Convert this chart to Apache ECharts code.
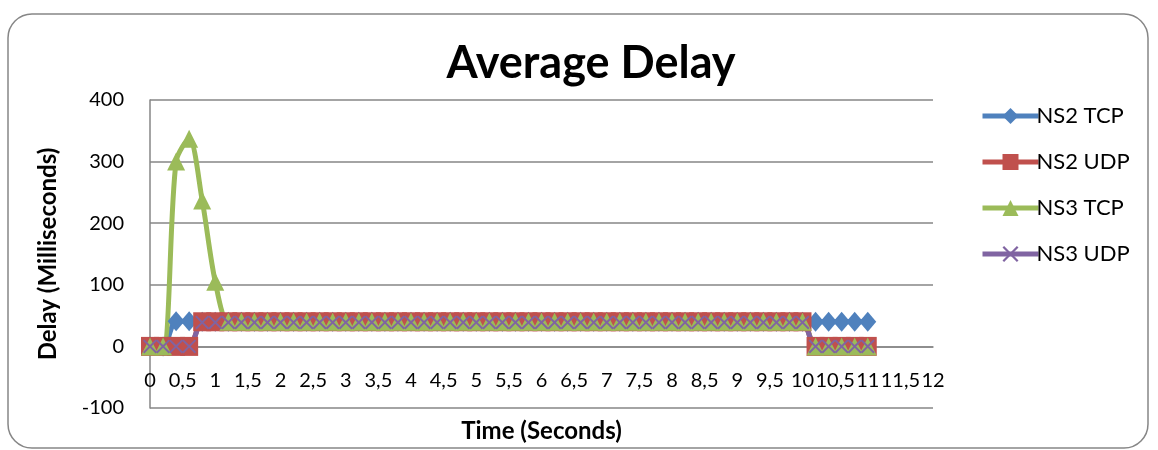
<!DOCTYPE html>
<html>
<head>
<meta charset="utf-8">
<script src="https://cdn.jsdelivr.net/npm/echarts@6/dist/echarts.min.js"></script>
<style>
  html, body { margin: 0; padding: 0; background: #fff; }
  #chart { width: 1158px; height: 450px; }
</style>
</head>
<body>
<div id="chart"></div>
<script>
// Sample times (seconds)
const times = [0,0.2,0.4,0.6,0.8,1,1.2,1.4,1.6,1.8,2,2.2,2.4,2.6,2.8,3,3.2,3.4,3.6,3.8,
  4,4.2,4.4,4.6,4.8,5,5.2,5.4,5.6,5.8,6,6.2,6.4,6.6,6.8,7,7.2,7.4,7.6,7.8,
  8,8.2,8.4,8.6,8.8,9,9.2,9.4,9.6,9.8,10,10.2,10.4,10.6,10.8,11];

// Average delay per sample (milliseconds)
const ns2Tcp = [0,0,41,41,40,40,40,40,40,40,40,40,40,40,40,40,40,40,40,40,
  40,40,40,40,40,40,40,40,40,40,40,40,40,40,40,40,40,40,40,40,
  40,40,40,40,40,40,40,40,40,40,40,40,40,40,40,40];
const ns2Udp = [0,0,0,0,40,40,40,40,40,40,40,40,40,40,40,40,40,40,40,40,
  40,40,40,40,40,40,40,40,40,40,40,40,40,40,40,40,40,40,40,40,
  40,40,40,40,40,40,40,40,40,40,40,0,0,0,0,0];
const ns3Tcp = [0,0,300,337,237,105,40,40,40,40,40,40,40,40,40,40,40,40,40,40,
  40,40,40,40,40,40,40,40,40,40,40,40,40,40,40,40,40,40,40,40,
  40,40,40,40,40,40,40,40,40,40,40,0,0,0,0,0];
const ns3Udp = [0,0,0,0,39,39,39,39,39,39,39,39,39,39,39,39,39,39,39,39,
  39,39,39,39,39,39,39,39,39,39,39,39,39,39,39,39,39,39,39,39,
  39,39,39,39,39,39,39,39,39,39,39,0,0,0,0,0];

const seriesNames = ['NS2 TCP', 'NS2 UDP', 'NS3 TCP', 'NS3 UDP'];
const yTicks = { min: -100, max: 400, step: 100 };
const xTicks = { min: 0, max: 12, step: 0.5 };

const FONT = 'Lato, "Open Sans", sans-serif';
const GRID_COLOR = '#868686';
const X_MARK = 'path://M0,1 L1,0 L5,4 L9,0 L10,1 L6,5 L10,9 L9,10 L5,6 L1,10 L0,9 L4,5 Z';

function pairs(values) {
  return times.map((t, i) => [t, values[i]]);
}

function lineSeries(name, values, color, symbol, size) {
  return {
    name: name,
    type: 'line',
    data: pairs(values),
    smooth: 0.3,
    symbol: symbol,
    symbolSize: size,
    lineStyle: { width: 5, color: color },
    itemStyle: { color: color, borderWidth: 0 },
    emphasis: { disabled: true }
  };
}

const chart = echarts.init(document.getElementById('chart'), null, { renderer: 'canvas' });

chart.setOption({
  animation: false,
  backgroundColor: '#ffffff',
  textStyle: { fontFamily: FONT, color: '#000' },
  graphic: [{
    type: 'rect',
    shape: { x: 8, y: 14, width: 1140, height: 434, r: 24 },
    style: { fill: 'none', stroke: GRID_COLOR, lineWidth: 1.5 },
    silent: true,
    z: -1
  }],
  title: {
    text: 'Average Delay',
    left: 586,
    textAlign: 'center',
    top: 36,
    textStyle: { fontFamily: FONT, fontSize: 45, fontWeight: 'bold', color: '#000' }
  },
  legend: {
    orient: 'vertical',
    left: 975,
    top: 100,
    itemWidth: 56,
    itemHeight: 20,
    itemGap: 24,
    lineStyle: { width: 5 },
    textStyle: { fontFamily: FONT, fontSize: 22, color: '#000', padding: [0, 0, 0, -7] },
    data: seriesNames
  },
  grid: { left: 150, right: 225, top: 100, bottom: 42, containLabel: false, outerBoundsMode: 'none' },
  xAxis: {
    type: 'value',
    min: xTicks.min,
    max: xTicks.max,
    interval: xTicks.step,
    name: 'Time (Seconds)',
    nameLocation: 'middle',
    nameGap: 11,
    nameTextStyle: { fontFamily: FONT, fontSize: 24, fontWeight: 'bold', color: '#000' },
    axisLine: { onZero: true, lineStyle: { color: GRID_COLOR, width: 1.5 } },
    axisTick: { show: false },
    splitLine: { show: false },
    axisLabel: {
      margin: -37,
      fontFamily: FONT,
      fontSize: 20,
      color: '#000',
      formatter: v => String(v).replace('.', ',')
    }
  },
  yAxis: {
    type: 'value',
    min: yTicks.min,
    max: yTicks.max,
    interval: yTicks.step,
    name: 'Delay (Milliseconds)',
    nameLocation: 'middle',
    nameGap: 90,
    nameTextStyle: { fontFamily: FONT, fontSize: 24, fontWeight: 'bold', color: '#000' },
    axisLine: { show: true, lineStyle: { color: GRID_COLOR, width: 1.5 } },
    axisTick: { show: false },
    splitLine: { show: true, lineStyle: { color: GRID_COLOR, width: 1.5 } },
    axisLabel: { margin: 26, fontFamily: FONT, fontSize: 20, color: '#000' }
  },
  series: [
    lineSeries(seriesNames[0], ns2Tcp, '#4F81BD', 'diamond', [17, 20]),
    lineSeries(seriesNames[1], ns2Udp, '#C0504D', 'rect', [18, 19]),
    lineSeries(seriesNames[2], ns3Tcp, '#9BBB59', 'triangle', [18, 18]),
    lineSeries(seriesNames[3], ns3Udp, '#8064A2', X_MARK, [14, 14])
  ]
});
</script>
</body>
</html>
